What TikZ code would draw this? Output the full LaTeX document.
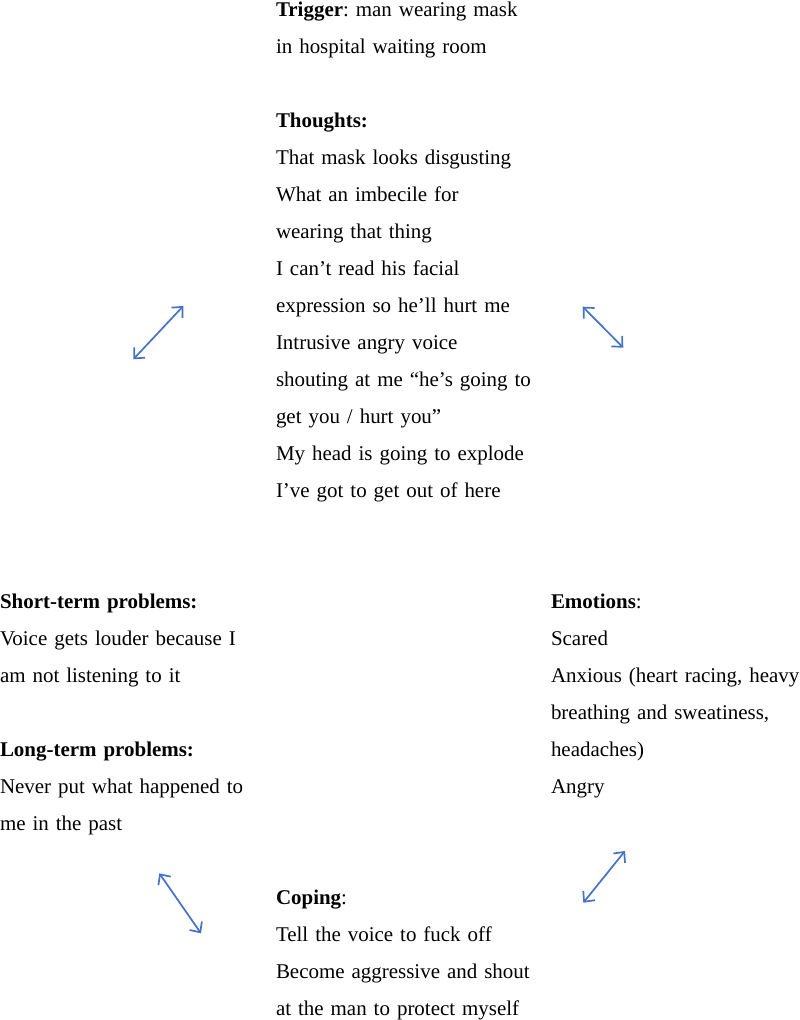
\documentclass[tikz,border=0pt]{standalone}
\usepackage{fontspec}
\setmainfont{Liberation Serif}
\usetikzlibrary{arrows.meta}
\definecolor{arrowblue}{RGB}{68,114,196}
\frenchspacing
\begin{document}
\begin{tikzpicture}[x=1pt,y=-1pt,
  txt/.style={anchor=base west, inner sep=0pt, outer sep=0pt, text width=340pt, align=left,
    font=\fontsize{20.95}{37}\selectfont\frenchspacing},
  dbl/.style={draw=arrowblue, line width=1.7pt,
    {Straight Barb[length=8pt,width=15pt]}-{Straight Barb[length=8pt,width=15pt]}}]
\useasboundingbox (0,0) rectangle (800,1020);

\node[txt] (thoughts) at (276,16) {\textbf{Trigger}: man wearing mask\\
in hospital waiting room\\
\mbox{}\\
\textbf{Thoughts:}\\
That mask looks disgusting\\
What an imbecile for\\
wearing that thing\\
I can’t read his facial\\
expression so he’ll hurt me\\
Intrusive angry voice\\
shouting at me “he’s going to\\
get you / hurt you”\\
My head is going to explode\\
I’ve got to get out of here};

\node[txt] (problems) at (0,608) {\textbf{Short-term problems:}\\
Voice gets louder because I\\
am not listening to it\\
\mbox{}\\
\textbf{Long-term problems:}\\
Never put what happened to\\
me in the past};

\node[txt] (emotions) at (551,608) {\textbf{Emotions}:\\
Scared\\
Anxious (heart racing, heavy\\
breathing and sweatiness,\\
headaches)\\
Angry};

\node[txt] (coping) at (276,904) {\textbf{Coping}:\\
Tell the voice to fuck off\\
Become aggressive and shout\\
at the man to protect myself};

\coordinate (a1s) at (133.3,359.3);
\coordinate (a1e) at (183.3,306);
\coordinate (a2s) at (582.7,306.7);
\coordinate (a2e) at (623.3,347.7);
\coordinate (a3s) at (159.3,873.3);
\coordinate (a3e) at (201,933.3);
\coordinate (a4s) at (625,851);
\coordinate (a4e) at (583.3,902.7);

\draw[dbl] (a1s) -- (a1e);
\draw[dbl] (a2s) -- (a2e);
\draw[dbl] (a3s) -- (a3e);
\draw[dbl] (a4s) -- (a4e);
\end{tikzpicture}
\end{document}
